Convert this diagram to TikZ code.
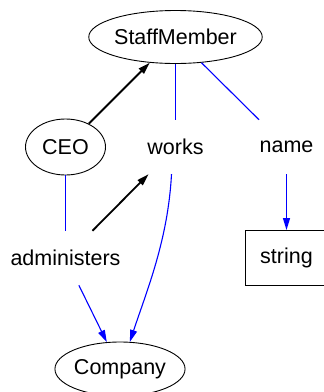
\documentclass[tikz,border=0pt]{standalone}
\usepackage{fontspec}
\setmainfont{Liberation Sans}
\usetikzlibrary{arrows.meta,shapes.geometric}
\definecolor{linkblue}{RGB}{0,0,255}
\begin{document}
\begin{tikzpicture}[x=1pt,y=-1pt,
  every node/.style={font=\fontsize{21.5}{25}\selectfont, inner sep=0pt},
  cls/.style={ellipse, draw=black, line width=0.9pt},
  prop/.style={rectangle, minimum height=54pt, minimum width=70pt},
  lit/.style={rectangle, draw=black, line width=0.9pt, minimum width=82pt, minimum height=55pt},
  link/.style={color=linkblue, line width=1.1pt},
  linkarrow/.style={link, -{Triangle[length=12pt,width=7pt]}},
  sub/.style={color=black, line width=1.8pt, -{Triangle[length=12pt,width=7pt]}}
]
\useasboundingbox (0,0) rectangle (324,392);

% class and property nodes
\node[cls, minimum width=154pt, minimum height=53pt] (staff) at (175.5,37) {StaffMember};
\node[cls, minimum width=80pt, minimum height=56pt] (ceo) at (65.5,147) {CEO};
\node[prop] (works) at (175.5,147) {works};
\node[prop] (name) at (286.5,147) {name};
\node[prop, minimum width=116pt] (admin) at (65.5,258) {administers};
\node[lit] (string) at (286.5,258) {string};
\node[cls, minimum width=124pt, minimum height=54pt] (company) at (120,369) {Company};

% subclass / subproperty links
\draw[sub] (ceo) -- (staff);
\draw[sub] (admin) -- (works);

% domain and range links
\draw[link] (staff.south) -- (works.north);
\draw[link] (staff) -- (name);
\draw[linkarrow] (name) -- (string);
\draw[link] (ceo.south) -- (admin.north);
\draw[linkarrow] (admin) -- (company);
\draw[linkarrow] ([xshift=-4pt]works.south) .. controls (168,240) and (147,290) .. (company.70);
\end{tikzpicture}
\end{document}
